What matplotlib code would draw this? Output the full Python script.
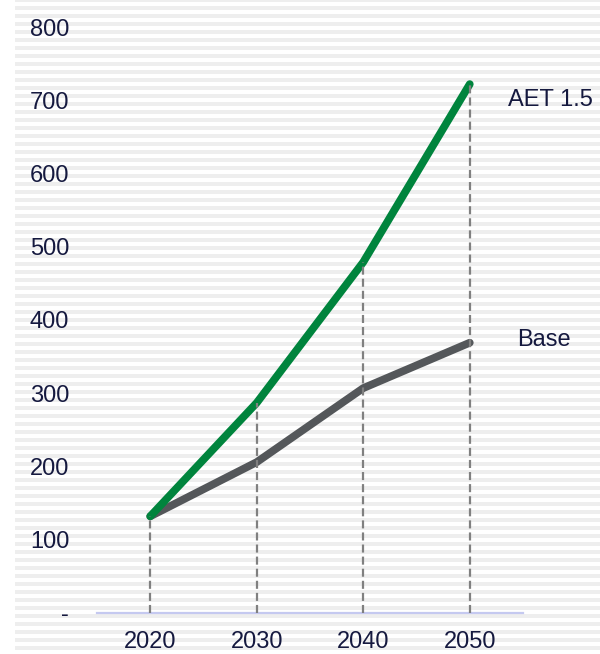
import numpy as np
import matplotlib.pyplot as plt

years = ["2020", "2030", "2040", "2050"]
aet_values = [132, 287, 479, 722]
base_values = [132, 206, 307, 369]
y_ticks = [0, 100, 200, 300, 400, 500, 600, 700, 800]
y_tick_labels = ["-", "100", "200", "300", "400", "500", "600", "700", "800"]

GREEN = "#00843d"
GREY = "#54575a"
TEXT = "#15193f"

plt.rcParams["font.family"] = ["Liberation Sans", "DejaVu Sans"]
plt.rcParams["lines.scale_dashes"] = False

W, H = 600, 654
fig = plt.figure(figsize=(W / 100, H / 100), dpi=100)

# striped backdrop
bg = fig.add_axes([15 / W, 0, 1 - 15 / W, 1])
bg.set_xlim(0, 1)
bg.set_ylim(H, 0)
bg.axis("off")
for top in np.arange(-2, H, 8):
    bg.axhspan(top, top + 4, color="#eeeeee", lw=0)

ax = fig.add_axes([97 / W, (H - 613) / H, (523 - 97) / W, (613 - 27) / H])
ax.patch.set_alpha(0)
x = np.arange(len(years))
ax.set_xlim(-0.5, len(years) - 0.5)
ax.set_ylim(0, 800)

ax.vlines(x, 0, aet_values, colors="#808080", lw=1.6,
          linestyles=[(0, (5.8, 2.9))], zorder=4)
ax.plot(x, base_values, color=GREY, lw=5.6, solid_capstyle="round", zorder=3)
ax.plot(x, aet_values, color=GREEN, lw=5.6, solid_capstyle="round", zorder=3)

ax.annotate("AET 1.5", (x[-1], aet_values[-1]), xytext=(27.5, -11.5),
            textcoords="offset points", ha="left", va="center",
            fontsize=17, color=TEXT)
ax.annotate("Base", (x[-1], base_values[-1]), xytext=(34, 2),
            textcoords="offset points", ha="left", va="center",
            fontsize=17, color=TEXT)

for side in ["top", "right", "left"]:
    ax.spines[side].set_visible(False)
ax.spines["bottom"].set_color("#c5c9f0")
ax.spines["bottom"].set_linewidth(1.6)

ax.set_xticks(x, years)
ax.set_yticks(y_ticks, y_tick_labels)
ax.tick_params(axis="x", length=0, pad=13, labelsize=17, labelcolor=TEXT)
ax.tick_params(axis="y", length=0, pad=20, labelsize=17, labelcolor=TEXT)

fig.savefig("out.png", dpi=100)
